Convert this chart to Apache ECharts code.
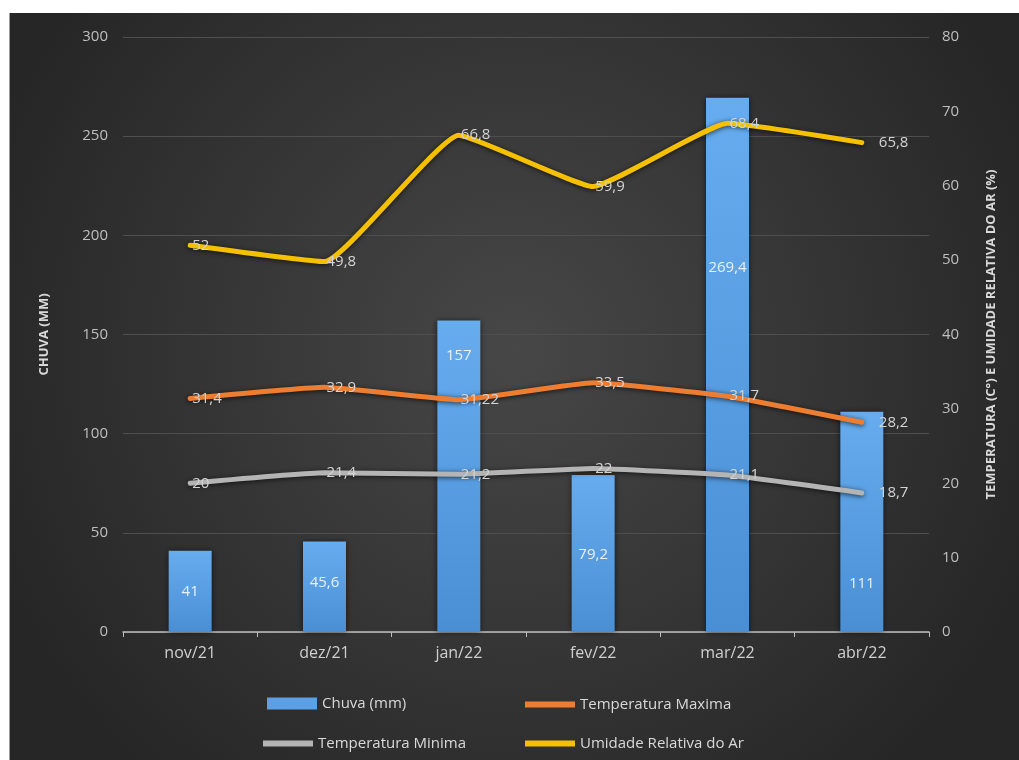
<!DOCTYPE html>
<html>
<head>
<meta charset="utf-8">
<script src="https://cdn.jsdelivr.net/npm/echarts@6/dist/echarts.min.js"></script>
<style>
  html, body { margin: 0; padding: 0; background: #ffffff; }
  #chart { position: absolute; left: 9px; top: 13px; width: 1010px; height: 747px; border-left: 1px solid #9a9a9a; }
</style>
</head>
<body>
<div id="chart"></div>
<script>
var meses = ['nov/21', 'dez/21', 'jan/22', 'fev/22', 'mar/22', 'abr/22'];
var chuva = [41, 45.6, 157, 79.2, 269.4, 111];
var tempMax = [31.4, 32.9, 31.22, 33.5, 31.7, 28.2];
var tempMin = [20, 21.4, 21.2, 22, 21.1, 18.7];
var umidade = [52, 49.8, 66.8, 59.9, 68.4, 65.8];
// distancia do rotulo da barra ao topo (ajuste manual como no original)
var chuvaLabelDist = [34, 34, 28, 72, 163, 164];

var fonte = '"Open Sans", sans-serif';

function virgula(v) {
    return String(v).replace('.', ',');
}

function serieLinha(nome, dados, cor) {
    return {
        name: nome,
        type: 'line',
        yAxisIndex: 1,
        data: dados.map(function (v, i) {
            // ultimo rotulo fica mais afastado, como no grafico original
            return i === dados.length - 1 ? { value: v, label: { distance: 16 } } : v;
        }),
        smooth: 0.12,
        symbol: 'circle',
        symbolSize: 2,
        showSymbol: true,
        lineStyle: {
            color: cor,
            width: 5,
            cap: 'round',
            shadowColor: 'rgba(0,0,0,0.7)',
            shadowBlur: 5,
            shadowOffsetY: 1
        },
        itemStyle: { color: 'rgba(0,0,0,0)', borderWidth: 0 },
        label: {
            show: true,
            position: 'right',
            distance: 1,
            color: '#d4d4d4',
            fontSize: 15,
            fontFamily: fonte,
            formatter: function (p) { return virgula(p.value); }
        },
        z: 3
    };
}

function legenda(nome, x, y, altura, cor) {
    return {
        data: [{ name: nome, icon: 'rect', itemStyle: { color: cor, opacity: 1 } }],
        left: x,
        top: y,
        itemWidth: 50,
        itemHeight: altura,
        textStyle: { color: '#d9d9d9', fontSize: 15, fontFamily: fonte }
    };
}

var myChart = echarts.init(document.getElementById('chart'));
var option = {
    backgroundColor: {
        type: 'radial',
        x: 0.5, y: 0.45, r: 0.75,
        colorStops: [
            { offset: 0, color: '#474747' },
            { offset: 1, color: '#262626' }
        ]
    },
    animation: false,
    grid: { left: 113, right: 91, top: 24, bottom: 128 },
    legend: [
        legenda('Chuva (mm)', 252, 678, 12, '#5ba0e4'),
        legenda('Temperatura Maxima', 510, 679, 6, '#ed7d31'),
        legenda('Temperatura Minima', 248, 718, 6, '#b4b4b4'),
        legenda('Umidade Relativa do Ar', 510, 718, 6, '#f5c000')
    ],
    xAxis: {
        type: 'category',
        data: meses,
        axisLine: { lineStyle: { color: '#bfbfbf', width: 1.5 } },
        axisTick: { show: true, length: 5, lineStyle: { color: '#bfbfbf' } },
        axisLabel: { color: '#cfcfcf', fontSize: 16, margin: 13, fontFamily: fonte }
    },
    yAxis: [{
        type: 'value',
        min: 0, max: 300, interval: 50,
        name: 'CHUVA (MM)',
        nameLocation: 'middle',
        nameRotate: 90,
        nameGap: 72,
        nameTextStyle: { color: '#d9d9d9', fontSize: 13, fontWeight: 'bold', fontFamily: fonte },
        axisLine: { show: false },
        axisTick: { show: false },
        axisLabel: { color: '#bfbfbf', fontSize: 15, margin: 15, fontFamily: fonte },
        splitLine: { lineStyle: { color: '#4f4f4f', width: 1 } }
    }, {
        type: 'value',
        min: 0, max: 80, interval: 10,
        name: 'TEMPERATURA (C°) E UMIDADE RELATIVA DO AR (%)',
        nameLocation: 'middle',
        nameRotate: 90,
        nameGap: 56,
        nameTextStyle: { color: '#d9d9d9', fontSize: 13, fontWeight: 'bold', fontFamily: fonte },
        axisLine: { show: false },
        axisTick: { show: false },
        axisLabel: { color: '#bfbfbf', fontSize: 15, margin: 13, fontFamily: fonte },
        splitLine: { show: false }
    }],
    series: [{
        name: 'Chuva (mm)',
        type: 'bar',
        yAxisIndex: 0,
        barWidth: '32%',
        data: chuva.map(function (v, i) {
            return { value: v, label: { distance: chuvaLabelDist[i] } };
        }),
        itemStyle: {
            color: {
                type: 'linear', x: 0, y: 0, x2: 0, y2: 1,
                colorStops: [
                    { offset: 0, color: '#66acee' },
                    { offset: 1, color: '#4a8fd4' }
                ]
            },
            shadowColor: 'rgba(0,0,0,0.6)',
            shadowBlur: 6
        },
        label: {
            show: true,
            position: 'insideTop',
            color: '#e8f1fb',
            fontSize: 15,
            fontFamily: fonte,
            formatter: function (p) { return virgula(p.value); }
        },
        z: 2
    },
    serieLinha('Temperatura Maxima', tempMax, '#ed7d31'),
    serieLinha('Temperatura Minima', tempMin, '#b4b4b4'),
    serieLinha('Umidade Relativa do Ar', umidade, '#f5c000')
    ]
};
myChart.setOption(option);
</script>
</body>
</html>
